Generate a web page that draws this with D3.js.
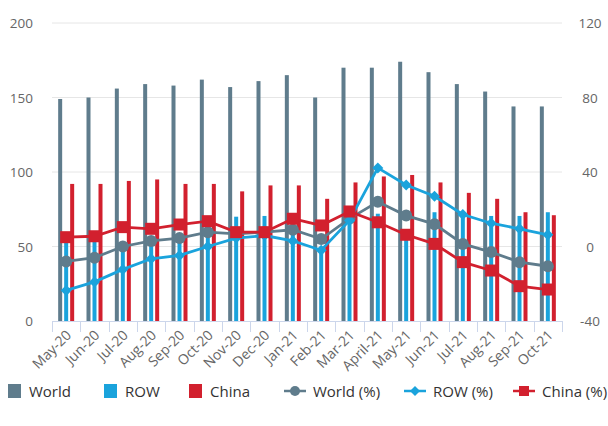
<!DOCTYPE html>
<html><head><meta charset="utf-8">
<script src="https://cdn.jsdelivr.net/npm/d3@7"></script>
<style>body{margin:0;background:#fff;}svg{display:block;font-family:"Open Sans",sans-serif;}</style>
</head><body><div id="chart"></div>
<script>
const categories = ["May-20","Jun-20","Jul-20","Aug-20","Sep-20","Oct-20","Nov-20","Dec-20","Jan-21","Feb-21","Mar-21","April-21","May-21","Jun-21","Jul-21","Aug-21","Sep-21","Oct-21"];
const worldBars = [149,150,156,159,158,162,157,161,165,150,170,170,174,167,159,154,144,144];
const rowBars   = [54,54,51,53,53,59,70,70.5,62,48,68,72,60,73,73,70.5,70.5,73];
const chinaBars = [92,92,94,95,92,92,87,91,91,82,93,97,98,93,86,82,73,71];
const worldPct  = [-8,-6,0,3,4.5,7.7,6.8,7.7,9,4,15,24,16.6,12,1.4,-3,-8.4,-10.6];
const rowPct    = [-23.6,-19,-12.3,-6.6,-4.8,0,4.5,5.9,3,-2,14,42.2,33,27,17.2,12.5,9.5,6.3];
const chinaPct  = [5,5.5,10.4,9.5,11.8,13.6,7.7,7.7,14.9,11.3,18.8,13,6.3,1.4,-8.4,-12.9,-21.3,-23.1];
const leftTicks = [0,50,100,150,200];
const rightTicks = [-40,0,40,80,120];

const W = 608, H = 426;
const C = {world:"#5f7c8c", row:"#1aa3dc", china:"#d2202e"};
const svg = d3.select("#chart").append("svg").attr("width",W).attr("height",H);
const x = d3.scaleBand().domain(categories).range([52,562]);
const yL = d3.scaleLinear().domain([0,200]).range([321,23]);
const yR = d3.scaleLinear().domain([-40,120]).range([321,23]);

// gridlines
svg.append("g").selectAll("line").data(leftTicks.slice(1)).join("line")
  .attr("x1",52).attr("x2",562).attr("y1",d=>yL(d)).attr("y2",d=>yL(d))
  .attr("stroke","#e6e6e6").attr("stroke-width",1);

// left axis labels
svg.append("g").selectAll("text").data(leftTicks).join("text")
  .attr("x",33).attr("y",d=>yL(d)+5).attr("text-anchor","end")
  .attr("font-size",13.5).attr("fill","#666").text(d=>d);
// right axis labels
svg.append("g").selectAll("text").data(rightTicks).join("text")
  .attr("x",590).attr("y",d=>yR(d)+5).attr("text-anchor","middle")
  .attr("font-size",13.5).attr("fill","#666").text(d=>d);

// bars
const bw = 4, off = 6;
const barSeries = [[worldBars,C.world,-off],[rowBars,C.row,0],[chinaBars,C.china,off]];
barSeries.forEach(([vals,col,o])=>{
  svg.append("g").selectAll("rect").data(vals).join("rect")
    .attr("x",(d,i)=>x(categories[i])+x.bandwidth()/2+o-bw/2)
    .attr("width",bw)
    .attr("y",d=>yL(d)).attr("height",d=>yL(0)-yL(d))
    .attr("fill",col);
});

// x axis
const xAxis = svg.append("g");
xAxis.append("line").attr("x1",52).attr("x2",562).attr("y1",321.5).attr("y2",321.5).attr("stroke","#ccd6eb");
const bounds = categories.map(c=>x(c)).concat([x.range()[1]]);
xAxis.selectAll("line.tk").data(bounds).join("line").attr("class","tk")
  .attr("x1",d=>Math.round(d)+0.5).attr("x2",d=>Math.round(d)+0.5).attr("y1",321).attr("y2",332)
  .attr("stroke","#ccd6eb");
xAxis.selectAll("text").data(categories).join("text")
  .attr("transform",d=>`translate(${x(d)+x.bandwidth()/2+6},${336}) rotate(-45)`)
  .attr("text-anchor","end").attr("font-size",14).attr("fill","#666").text(d=>d);

// lines
const cx = i=>x(categories[i])+x.bandwidth()/2;
function drawLine(vals,col,shape){
  const line = d3.line().x((d,i)=>cx(i)).y(d=>yR(d));
  svg.append("path").datum(vals).attr("d",line).attr("fill","none").attr("stroke",col).attr("stroke-width",2.8);
  const g = svg.append("g");
  vals.forEach((d,i)=>{
    const px = cx(i), py = yR(d);
    if(shape==="circle") g.append("circle").attr("cx",px).attr("cy",py).attr("r",6).attr("fill",col);
    else if(shape==="diamond") g.append("path").attr("d",`M${px},${py-5.5}L${px+5.5},${py}L${px},${py+5.5}L${px-5.5},${py}Z`).attr("fill",col);
    else g.append("rect").attr("x",px-6).attr("y",py-6).attr("width",12).attr("height",12).attr("fill",col);
  });
}
drawLine(worldPct,C.world,"circle");
drawLine(rowPct,C.row,"diamond");
drawLine(chinaPct,C.china,"square");

// legend
const legend = [
  {label:"World",col:C.world,type:"bar",x:8},
  {label:"ROW",col:C.row,type:"bar",x:104},
  {label:"China",col:C.china,type:"bar",x:189},
  {label:"World (%)",col:C.world,type:"circle",x:284},
  {label:"ROW (%)",col:C.row,type:"diamond",x:404},
  {label:"China (%)",col:C.china,type:"square",x:513}
];
const lg = svg.append("g");
const ly = 391;
legend.forEach(l=>{
  if(l.type==="bar"){
    lg.append("rect").attr("x",l.x).attr("y",ly-7).attr("width",13).attr("height",14).attr("fill",l.col);
    lg.append("text").attr("x",l.x+21).attr("y",ly+5.5).attr("font-size",15).attr("fill","#333").text(l.label);
  } else {
    lg.append("line").attr("x1",l.x).attr("x2",l.x+22).attr("y1",ly).attr("y2",ly).attr("stroke",l.col).attr("stroke-width",2.5);
    const px=l.x+11;
    if(l.type==="circle") lg.append("circle").attr("cx",px).attr("cy",ly).attr("r",5).attr("fill",l.col);
    else if(l.type==="diamond") lg.append("path").attr("d",`M${px},${ly-5}L${px+5},${ly}L${px},${ly+5}L${px-5},${ly}Z`).attr("fill",l.col);
    else lg.append("rect").attr("x",px-5).attr("y",ly-5).attr("width",10).attr("height",10).attr("fill",l.col);
    lg.append("text").attr("x",l.x+29).attr("y",ly+5.5).attr("font-size",15).attr("fill","#333").text(l.label);
  }
});
</script></body></html>
